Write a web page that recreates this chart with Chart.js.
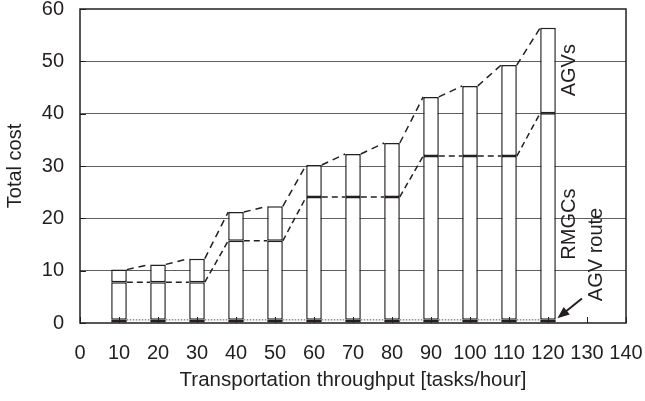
<!DOCTYPE html>
<html>
<head>
<meta charset="utf-8">
<script src="https://cdn.jsdelivr.net/npm/chart.js@4.4.1/dist/chart.umd.min.js"></script>
<style>
  html, body { margin: 0; padding: 0; background: #fff; }
  #wrap { width: 645px; height: 401px; }
</style>
</head>
<body>
<div id="wrap"><canvas id="costChart" width="645" height="401"></canvas></div>
<script>
// values
const throughput = [10, 20, 30, 40, 50, 60, 70, 80, 90, 100, 110, 120];
const agvRouteCost = [0.6, 0.6, 0.6, 0.6, 0.6, 0.6, 0.6, 0.6, 0.6, 0.6, 0.6, 0.6];
const rmgcCost = [7.2, 7.2, 7.2, 15.1, 15.1, 23.5, 23.5, 23.5, 31.3, 31.3, 31.3, 39.5];
const agvCost = [2.4, 3.4, 4.5, 5.5, 6.6, 6.1, 8.2, 10.3, 11.3, 13.4, 17.4, 16.3];
const xTicks = [0, 10, 20, 30, 40, 50, 60, 70, 80, 90, 100, 110, 120, 130, 140];
const yTicks = [0, 10, 20, 30, 40, 50, 60];

const INK = '#231f20';
const FONT = '"Liberation Sans", Arial, sans-serif';

function toPoints(arr) {
    return throughput.map((x, i) => ({ x: x, y: arr[i] }));
}

// dashed "series lines" between neighbouring bars, like the original
const seriesLines = {
    id: 'seriesLines',
    afterDatasetsDraw(chart) {
        const ctx = chart.ctx;
        const styles = [
            { dash: [1.5, 1.5], color: '#555', width: 1 },
            { dash: [6, 4], color: INK, width: 1.5 },
            { dash: [7, 5], color: INK, width: 1.5 }
        ];
        ctx.save();
        chart.data.datasets.forEach((ds, di) => {
            const bars = chart.getDatasetMeta(di).data;
            const st = styles[di];
            ctx.setLineDash(st.dash);
            ctx.strokeStyle = st.color;
            ctx.lineWidth = st.width;
            for (let i = 0; i < bars.length - 1; i++) {
                const a = bars[i].getProps(['x', 'y', 'width'], true);
                const b = bars[i + 1].getProps(['x', 'y', 'width'], true);
                ctx.beginPath();
                ctx.moveTo(a.x + a.width / 2, a.y);
                ctx.lineTo(b.x - b.width / 2, b.y);
                ctx.stroke();
            }
        });
        ctx.restore();
    }
};

// frame, inside ticks, labels and arrow
const decorations = {
    id: 'decorations',
    afterDraw(chart) {
        const ctx = chart.ctx;
        const area = chart.chartArea;
        const xs = chart.scales.x;
        const ys = chart.scales.y;
        ctx.save();
        ctx.strokeStyle = INK;
        ctx.lineWidth = 1;
        xTicks.forEach(v => {
            const px = Math.round(xs.getPixelForValue(v)) + 0.5;
            ctx.beginPath();
            ctx.moveTo(px, area.bottom);
            ctx.lineTo(px, area.bottom - 6);
            ctx.stroke();
        });
        yTicks.forEach(v => {
            const py = Math.round(ys.getPixelForValue(v)) + 0.5;
            ctx.beginPath();
            ctx.moveTo(area.left, py);
            ctx.lineTo(area.left + 6, py);
            ctx.stroke();
        });
        ctx.lineWidth = 1.5;
        ctx.strokeRect(area.left, area.top, area.right - area.left, area.bottom - area.top);

        // rotated series names
        ctx.fillStyle = INK;
        ctx.font = '20px ' + FONT;
        ctx.textAlign = 'center';
        ctx.textBaseline = 'middle';
        const names = [
            { text: 'AGVs', x: 125.4, y: 48.3 },
            { text: 'RMGCs', x: 125.5, y: 18.9 },
            { text: 'AGV route', x: 132.4, y: 13.1 }
        ];
        names.forEach(n => {
            ctx.save();
            ctx.translate(xs.getPixelForValue(n.x), ys.getPixelForValue(n.y));
            ctx.rotate(-Math.PI / 2);
            ctx.fillText(n.text, 0, 0);
            ctx.restore();
        });

        // arrow to the AGV route segment
        const x0 = xs.getPixelForValue(128.7), y0 = ys.getPixelForValue(4.7);
        const x1 = xs.getPixelForValue(122.4), y1 = ys.getPixelForValue(0.9);
        const ang = Math.atan2(y1 - y0, x1 - x0);
        ctx.lineWidth = 2;
        ctx.beginPath();
        ctx.moveTo(x0, y0);
        ctx.lineTo(x1 - 8 * Math.cos(ang), y1 - 8 * Math.sin(ang));
        ctx.stroke();
        ctx.beginPath();
        ctx.moveTo(x1, y1);
        ctx.lineTo(x1 - 13 * Math.cos(ang - 0.38), y1 - 13 * Math.sin(ang - 0.38));
        ctx.lineTo(x1 - 13 * Math.cos(ang + 0.38), y1 - 13 * Math.sin(ang + 0.38));
        ctx.closePath();
        ctx.fill();
        ctx.restore();
    }
};

function barSet(label, values) {
    return {
        label: label,
        data: toPoints(values),
        backgroundColor: '#ffffff',
        borderColor: INK,
        borderWidth: 1.5,
        borderSkipped: false,
        barPercentage: 0.4,
        categoryPercentage: 1
    };
}

const ctx = document.getElementById('costChart').getContext('2d');
new Chart(ctx, {
    type: 'bar',
    data: {
        datasets: [
            barSet('AGV route', agvRouteCost),
            barSet('RMGCs', rmgcCost),
            barSet('AGVs', agvCost)
        ]
    },
    options: {
        responsive: false,
        animation: false,
        layout: { padding: { top: 9, right: 19, left: 0, bottom: 0 } },
        plugins: {
            legend: { display: false },
            tooltip: { enabled: false }
        },
        scales: {
            x: {
                type: 'linear',
                stacked: true,
                offset: false,
                min: 0,
                max: 140,
                afterBuildTicks: s => { s.ticks = xTicks.map(v => ({ value: v })); },
                afterFit: s => { s.height = 78; s.paddingLeft = 0; s.paddingRight = 0; },
                grid: { display: false, drawTicks: false },
                border: { display: false },
                ticks: { color: INK, font: { size: 20, family: FONT }, padding: 18, maxRotation: 0, autoSkip: false },
                title: {
                    display: true,
                    text: 'Transportation throughput [tasks/hour]',
                    color: INK,
                    font: { size: 20.5, family: FONT },
                    padding: { top: 0, bottom: 8 }
                }
            },
            y: {
                stacked: true,
                min: 0,
                max: 60,
                afterBuildTicks: s => { s.ticks = yTicks.map(v => ({ value: v })); },
                afterFit: s => { s.width = 80; s.paddingTop = 0; s.paddingBottom = 0; },
                grid: {
                    drawTicks: false,
                    color: c => (c.tick && (c.tick.value === 0 || c.tick.value === 60)) ? 'rgba(0,0,0,0)' : '#5f5f5f',
                    lineWidth: 1
                },
                border: { display: false },
                ticks: { color: INK, font: { size: 20, family: FONT }, padding: 16 },
                title: {
                    display: true,
                    text: 'Total cost',
                    color: INK,
                    font: { size: 20, family: FONT },
                    padding: { top: 3, bottom: 0 }
                }
            }
        }
    },
    plugins: [seriesLines, decorations]
});
</script>
</body>
</html>
